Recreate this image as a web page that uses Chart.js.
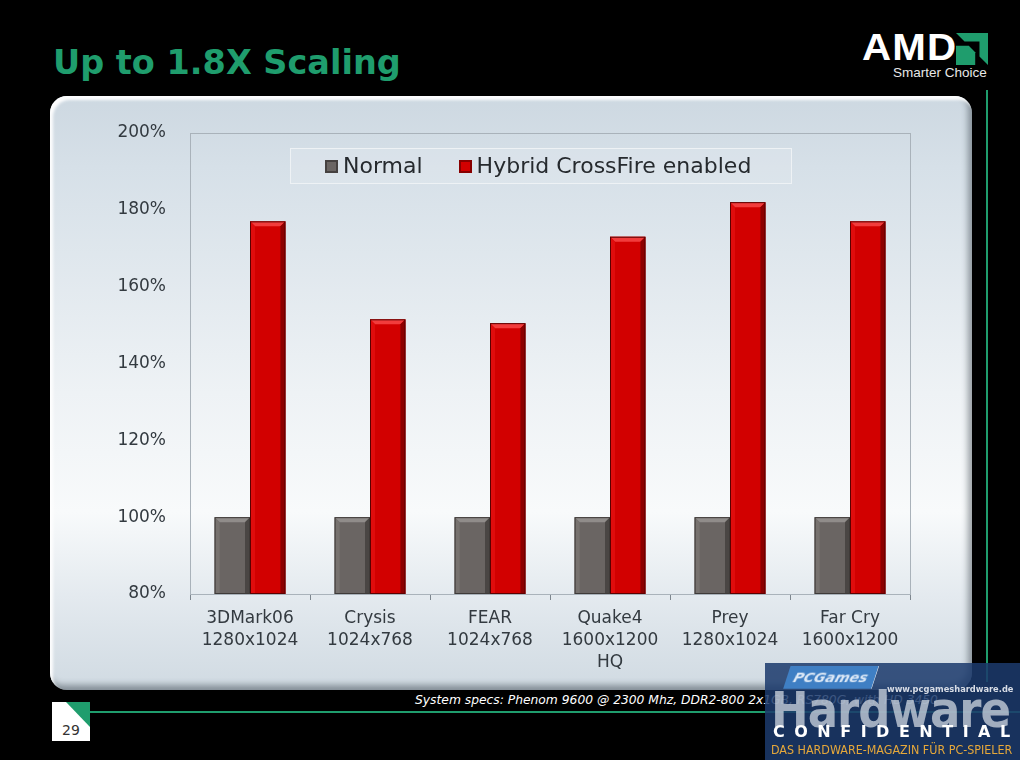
<!DOCTYPE html>
<html>
<head>
<meta charset="utf-8">
<script src="https://cdn.jsdelivr.net/npm/chart.js@4"></script>
<style>
  html, body { margin: 0; padding: 0; background: #000; }
  body { width: 1020px; height: 760px; position: relative; overflow: hidden; font-family: 'DejaVu Sans', sans-serif; }
  .title { position: absolute; left: 53px; top: 46px; font: bold 33.5px/33px 'DejaVu Sans', sans-serif; color: #1f9d6d; white-space: nowrap; }
  .logo { position: absolute; left: 860px; top: 28px; width: 130px; height: 56px; }
  .logo .amd { position: absolute; left: 2px; top: 2px; font: bold 36px/36px 'Liberation Sans', sans-serif; color: #fff; letter-spacing: 1px; transform: scaleX(1.12); transform-origin: left top; }
  .logo svg { position: absolute; left: 96px; top: 5px; }
  .logo .tag { position: absolute; left: 33px; top: 38px; font: 13.5px/14px 'Liberation Sans', sans-serif; color: #e8e8e8; white-space: nowrap; }
  .vline { position: absolute; left: 986px; top: 90px; width: 2px; height: 592px; background: #1f9d6d; }
  .hline { position: absolute; left: 90px; top: 711px; width: 930px; height: 2px; background: #1f9d6d; }
  .panel { position: absolute; left: 50px; top: 96px; width: 922px; height: 594px; border-radius: 17px;
    background: linear-gradient(to bottom, #cdd8e1 0%, #d6e0e8 12%, #eef2f5 50%, #f8fafb 70%, #e4eaef 84%, #d0dae2 100%);
    box-shadow: inset 3px 4px 3px rgba(255,255,255,0.95), inset -4px -5px 6px rgba(40,50,60,0.45); }
  .panel canvas { position: absolute; left: 0; top: 0; }
  .legend { position: absolute; left: 290px; top: 148px; width: 502px; height: 36px; box-sizing: border-box;
    border: 1px solid #eef2f5; background: rgba(255,255,255,0.12); display: flex; align-items: center; padding-left: 34px;
    font: 22px/22px 'DejaVu Sans', sans-serif; color: #262a2e; }
  .legend .item { display: flex; align-items: center; margin-right: 36px; white-space: nowrap; }
  .legend .sw { width: 13px; height: 13px; margin-right: 5px; box-sizing: border-box; border: 2px solid rgba(0,0,0,0.35); }
  .specs { position: absolute; left: 415px; top: 692px; font: italic 12.3px/16px 'DejaVu Sans', sans-serif; color: #fff; white-space: nowrap; }
  .page { position: absolute; left: 52px; top: 702px; width: 38px; height: 39px; background: #fff; }
  .page .tri { position: absolute; right: 0; top: 0; width: 0; height: 0; border-top: 25px solid #1f9d6d; border-left: 24px solid transparent; }
  .page .num { position: absolute; left: 0; width: 38px; top: 20px; text-align: center; font: 14px/16px 'DejaVu Sans', sans-serif; color: #333; }
  .wm { position: absolute; left: 765px; top: 663px; width: 255px; height: 97px; background: rgba(28,58,108,0.86); overflow: hidden; }
  .wm .pcg { position: absolute; left: 22px; top: 3px; width: 88px; height: 22px; background: #3f7fc4; transform: skewX(-18deg); color: #dce8f6; font: bold italic 14px/22px 'DejaVu Sans', sans-serif; text-align: center; }
  .wm .url { position: absolute; left: 122px; top: 20px; font: bold 8.3px/12px 'DejaVu Sans', sans-serif; color: #d8dde6; white-space: nowrap; }
  .wm .big { position: absolute; left: 6px; top: 22px; font: bold 50px/50px 'DejaVu Sans Condensed', 'DejaVu Sans', sans-serif; color: rgba(215,220,228,0.72); letter-spacing: -1px; white-space: nowrap; }
  .wm .conf { position: absolute; left: 8px; top: 60px; font: bold 16px/18px 'DejaVu Sans', sans-serif; color: #fff; letter-spacing: 9.5px; white-space: nowrap; }
  .wm .das { position: absolute; left: 6px; top: 80px; font: 12.4px/14px 'DejaVu Sans Condensed', 'DejaVu Sans', sans-serif; color: #e6a83a; white-space: nowrap; }
</style>
</head>
<body>
<div class="title">Up to 1.8X Scaling</div>
<div class="logo">
  <div class="amd">AMD</div>
  <svg width="32" height="32" viewBox="0 0 30 30">
    <path d="M0,0 L30,0 L30,30 L22,22 L22,8 L8,8 Z" fill="#1f9d6d"/>
    <path d="M0,12 L12,12 L18,18 L18,30 L0,30 Z" fill="#1f9d6d"/>
  </svg>
  <div class="tag">Smarter Choice</div>
</div>
<div class="vline"></div>
<div class="panel"><canvas id="chart" width="922" height="594"></canvas></div>
<div class="legend" id="legend"></div>
<div class="hline"></div>
<div class="specs">System specs: Phenom 9600 @ 2300 Mhz, DDR2-800 2x1GB, RS780G, with HD 3450</div>
<div class="page"><div class="tri"></div><div class="num">29</div></div>
<div class="wm">
  <div class="big">Hardware</div>
  <div class="pcg">PCGames</div>
  <div class="url">www.pcgameshardware.de</div>
  <div class="conf">CONFIDENTIAL</div>
  <div class="das">DAS HARDWARE-MAGAZIN FÜR PC-SPIELER</div>
</div>
<script>
// values (percent of normal performance)
const categories = [
  ['3DMark06', '1280x1024'],
  ['Crysis', '1024x768'],
  ['FEAR', '1024x768'],
  ['Quake4', '1600x1200', 'HQ'],
  ['Prey', '1280x1024'],
  ['Far Cry', '1600x1200'],
];
const seriesNames = ['Normal', 'Hybrid CrossFire enabled'];
const normalValues = [100, 100, 100, 100, 100, 100];
const crossfireValues = [177, 151.5, 150.5, 173, 182, 177];
const yMin = 80;
const yMax = 200;
const yStep = 20;

const seriesColors = ['#6a6563', '#d20000'];
// bevel shades per series: top, left, right, outline
const bevels = [
  ['#908c8a', '#77726f', '#4a4644', '#3e3a38'],
  ['#f23c3c', '#e00c0c', '#8c0000', '#5c0000'],
];

const legendEl = document.getElementById('legend');
seriesNames.forEach((name, i) => {
  const item = document.createElement('div');
  item.className = 'item';
  const sw = document.createElement('span');
  sw.className = 'sw';
  sw.style.background = seriesColors[i];
  item.appendChild(sw);
  item.appendChild(document.createTextNode(name));
  legendEl.appendChild(item);
});

const bevelPlugin = {
  id: 'bevel',
  afterDatasetsDraw(chart) {
    const { ctx, chartArea } = chart;
    chart.data.datasets.forEach((ds, di) => {
      const [top, left, right, line] = bevels[di];
      chart.getDatasetMeta(di).data.forEach((bar) => {
        const { x, y, width } = bar.getProps(['x', 'y', 'width'], true);
        const base = Math.round(chartArea.bottom);
        const l = x - width / 2;
        const r = x + width / 2;
        const b = 5;
        ctx.save();
        ctx.fillStyle = top;
        ctx.beginPath();
        ctx.moveTo(l, y); ctx.lineTo(r, y); ctx.lineTo(r - b, y + b); ctx.lineTo(l + b, y + b);
        ctx.closePath(); ctx.fill();
        ctx.fillStyle = left;
        ctx.beginPath();
        ctx.moveTo(l, y); ctx.lineTo(l + b, y + b); ctx.lineTo(l + b, base); ctx.lineTo(l, base);
        ctx.closePath(); ctx.fill();
        ctx.fillStyle = right;
        ctx.beginPath();
        ctx.moveTo(r, y); ctx.lineTo(r, base); ctx.lineTo(r - b, base); ctx.lineTo(r - b, y + b);
        ctx.closePath(); ctx.fill();
        ctx.strokeStyle = line;
        ctx.lineWidth = 1;
        ctx.strokeRect(l + 0.5, y + 0.5, width - 1, base - y - 1);
        ctx.restore();
      });
    });
  },
};

const framePlugin = {
  id: 'frame',
  beforeDatasetsDraw(chart) {
    const { ctx, chartArea: a } = chart;
    ctx.save();
    ctx.strokeStyle = '#a9b2ba';
    ctx.lineWidth = 1;
    ctx.strokeRect(Math.round(a.left) + 0.5, Math.round(a.top) + 0.5, Math.round(a.width), Math.round(a.height));
    ctx.restore();
  },
};

new Chart(document.getElementById('chart'), {
  type: 'bar',
  data: {
    labels: categories,
    datasets: [
      { label: seriesNames[0], data: normalValues, backgroundColor: seriesColors[0] },
      { label: seriesNames[1], data: crossfireValues, backgroundColor: seriesColors[1] },
    ],
  },
  options: {
    responsive: false,
    animation: false,
    events: [],
    categoryPercentage: 0.59,
    barPercentage: 1,
    layout: { padding: { left: 0, top: 37, right: 62, bottom: 0 } },
    plugins: { legend: { display: false }, tooltip: { enabled: false } },
    scales: {
      x: {
        grid: { offset: true, drawOnChartArea: false, color: '#7d868e', tickLength: 6 },
        border: { color: '#8d969e' },
        ticks: { color: '#333a40', padding: 8, font: { family: 'DejaVu Sans', size: 17, lineHeight: 1.28 }, maxRotation: 0 },
        afterFit(scale) { scale.height = 96; },
      },
      y: {
        min: yMin,
        max: yMax,
        grid: { display: false },
        border: { color: '#8d969e' },
        ticks: { stepSize: yStep, color: '#333a40', padding: 16, font: { family: 'DejaVu Sans', size: 17 },
          callback: (v) => v + '%' },
        afterFit(scale) { scale.width = 140; },
      },
    },
  },
  plugins: [framePlugin, bevelPlugin],
});
</script>
</body>
</html>
